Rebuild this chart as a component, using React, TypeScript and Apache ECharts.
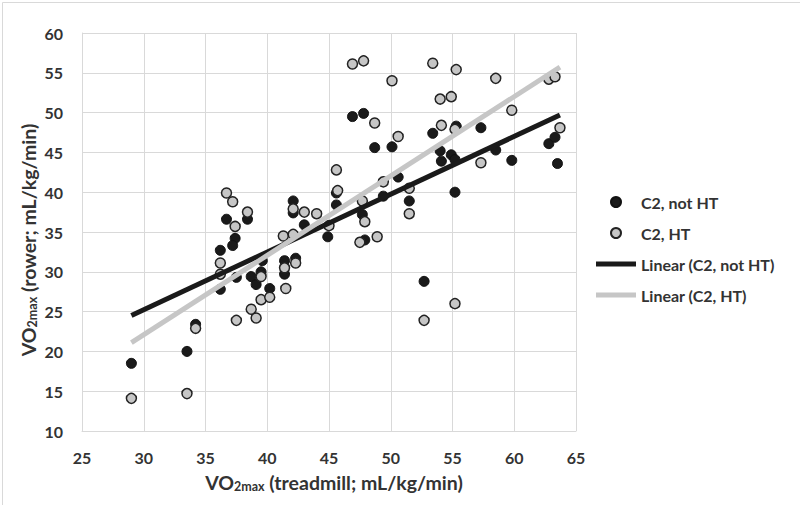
import { useEffect, useRef } from "react";
import * as echarts from "echarts";

// VO2max treadmill (x) vs rower (y)
const notHT: [number, number][] = [
  [29.0, 18.5], [33.5, 20.0], [34.2, 23.4], [36.2, 32.7], [36.2, 27.8],
  [36.7, 36.6], [37.4, 34.2], [37.2, 33.3], [37.5, 29.3], [38.4, 36.6],
  [38.7, 29.4], [39.1, 28.4], [39.5, 30.0], [39.6, 31.4], [40.2, 27.9],
  [41.4, 31.4], [41.4, 29.7], [42.3, 31.7], [42.1, 38.9], [42.1, 37.4],
  [43.0, 35.9], [44.9, 34.4], [45.6, 39.9], [45.6, 38.4], [46.9, 49.5],
  [47.8, 49.9], [47.7, 37.2], [47.9, 34.0], [48.7, 45.6], [49.4, 39.5],
  [50.1, 45.7], [50.6, 41.9], [51.5, 38.9], [52.7, 28.8], [53.4, 47.4],
  [54.0, 45.2], [54.1, 43.9], [54.9, 44.7], [55.2, 44.1], [55.3, 48.3],
  [55.2, 40.0], [57.3, 48.1], [58.5, 45.3], [59.8, 44.0], [62.8, 46.1],
  [63.3, 46.9], [63.5, 43.6],
];

const withHT: [number, number][] = [
  [29.0, 14.1], [33.5, 14.7], [34.2, 22.9], [36.2, 31.1], [36.2, 29.7],
  [36.7, 39.9], [37.2, 38.8], [37.4, 35.7], [38.4, 37.5], [37.5, 23.9],
  [38.7, 25.3], [39.1, 24.2], [39.5, 29.4], [39.5, 26.5], [40.2, 26.8],
  [41.3, 34.5], [41.4, 30.5], [41.5, 27.9], [42.1, 37.9], [42.1, 34.7],
  [42.3, 31.1], [43.0, 37.5], [44.0, 37.3], [45.0, 35.8], [45.6, 42.8],
  [45.7, 40.2], [46.9, 56.1], [47.8, 56.5], [47.7, 38.9], [47.9, 36.3],
  [47.5, 33.7], [48.9, 34.4], [48.7, 48.7], [49.4, 41.3], [50.1, 54.0],
  [50.6, 47.0], [51.5, 40.5], [51.5, 37.3], [52.7, 23.9], [53.4, 56.2],
  [54.0, 51.7], [54.9, 52.0], [54.1, 48.4], [55.2, 47.9], [55.3, 55.4],
  [55.2, 26.0], [57.3, 43.7], [58.5, 54.3], [59.8, 50.3], [62.8, 54.2],
  [63.3, 54.5], [63.7, 48.1],
];

// Trend line end points
const trendNotHT: [number, number][] = [[29.0, 24.5], [63.7, 49.7]];
const trendHT: [number, number][] = [[29.0, 21.1], [63.7, 55.7]];

const seriesNames = ["C2, not HT", "C2, HT", "Linear (C2, not HT)", "Linear (C2, HT)"];
const xTitle = "VO{s|2max} (treadmill; mL/kg/min)";
const yTitle = "VO{s|2max} (rower; mL/kg/min)";
const xRange = [25, 65];
const yRange = [10, 60];
const tickStep = 5;

const FONT = "Lato";
const TEXT = "#333333";
const GRID = "#d9d9d9";
const DARK = "#1a1a1a";
const LIGHT = "#c6c6c6";
const LINE_ICON = "path://M0,0L40,0L40,5L0,5Z";

export default function App() {
  const ref = useRef<HTMLDivElement>(null);

  useEffect(() => {
    if (!ref.current) return;
    const chart = echarts.init(ref.current, undefined, { renderer: "svg" });
    const titleStyle = {
      fontFamily: FONT,
      fontWeight: "bold" as const,
      fontSize: 19.5,
      fill: TEXT,
      align: "center" as const,
      verticalAlign: "middle" as const,
      lineHeight: 22,
      rich: {
        s: {
          fontFamily: FONT,
          fontWeight: "bold" as const,
          fontSize: 12.5,
          fill: TEXT,
          lineHeight: 12,
          verticalAlign: "bottom" as const,
        },
      },
    };
    chart.setOption({
      animation: false,
      backgroundColor: "#ffffff",
      graphic: [
        {
          type: "rect",
          left: 0,
          top: 0,
          shape: { x: 0.5, y: 0.5, width: 799, height: 504 },
          style: { fill: "none", stroke: GRID, lineWidth: 1 },
          silent: true,
        },
        {
          type: "text",
          x: 334,
          y: 482,
          silent: true,
          style: { ...titleStyle, text: xTitle },
        },
        {
          type: "text",
          x: 28,
          y: 240,
          rotation: Math.PI / 2,
          silent: true,
          style: { ...titleStyle, text: yTitle },
        },
      ],
      grid: { left: 82, top: 33, width: 494, height: 398, containLabel: false },
      legend: {
        orient: "vertical",
        left: 591,
        top: 189,
        padding: 5,
        itemWidth: 40,
        itemHeight: 10,
        itemGap: 15,
        data: [
          { name: seriesNames[0] },
          { name: seriesNames[1] },
          { name: seriesNames[2], icon: LINE_ICON },
          { name: seriesNames[3], icon: LINE_ICON },
        ],
        textStyle: {
          fontFamily: FONT,
          fontWeight: "bold",
          fontSize: 16,
          color: TEXT,
          lineHeight: 16,
        },
      },
      xAxis: {
        type: "value",
        min: xRange[0],
        max: xRange[1],
        interval: tickStep,
        axisLine: { show: true, lineStyle: { color: GRID, width: 1 } },
        axisTick: { show: false },
        axisLabel: {
          fontFamily: FONT,
          fontWeight: "bold",
          fontSize: 16,
          color: TEXT,
          margin: 18,
        },
        splitLine: { show: true, lineStyle: { color: GRID, width: 1 } },
      },
      yAxis: {
        type: "value",
        min: yRange[0],
        max: yRange[1],
        interval: tickStep,
        axisLine: { show: true, lineStyle: { color: GRID, width: 1 } },
        axisTick: { show: false },
        axisLabel: {
          fontFamily: FONT,
          fontWeight: "bold",
          fontSize: 16,
          color: TEXT,
          margin: 19,
        },
        splitLine: { show: true, lineStyle: { color: GRID, width: 1 } },
      },
      series: [
        {
          name: seriesNames[0],
          type: "scatter",
          data: notHT,
          symbol: "circle",
          symbolSize: 10,
          itemStyle: { color: DARK, borderColor: "#111111", borderWidth: 1, opacity: 1 },
          z: 2,
        },
        {
          name: seriesNames[1],
          type: "scatter",
          data: withHT,
          symbol: "circle",
          symbolSize: 10,
          itemStyle: { color: LIGHT, borderColor: "#222222", borderWidth: 1.5, opacity: 1 },
          z: 3,
        },
        {
          name: seriesNames[2],
          type: "line",
          data: trendNotHT,
          symbol: "none",
          lineStyle: { color: DARK, width: 5 },
          itemStyle: { color: DARK },
          z: 4,
        },
        {
          name: seriesNames[3],
          type: "line",
          data: trendHT,
          symbol: "none",
          lineStyle: { color: LIGHT, width: 5 },
          itemStyle: { color: LIGHT },
          z: 4,
        },
      ],
    });
    return () => chart.dispose();
  }, []);

  return (
    <div
      ref={ref}
      style={{ position: "fixed", left: 0, top: 0, width: 800, height: 505 }}
    />
  );
}
